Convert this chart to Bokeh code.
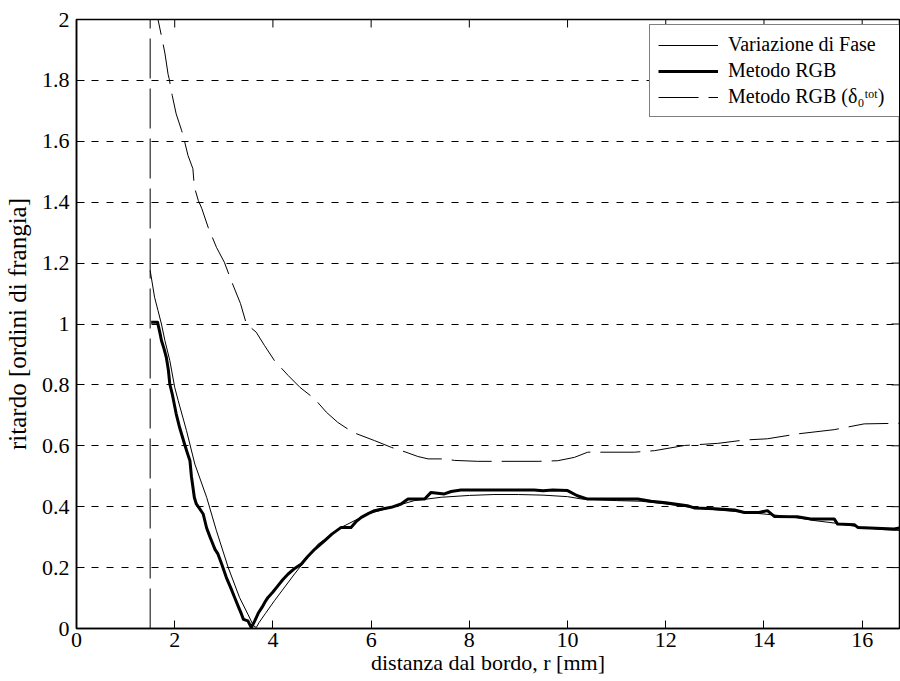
import math
from bokeh.plotting import figure
from bokeh.models import Range1d, FixedTicker, Legend, LegendItem
from bokeh.embed import file_html
from bokeh.resources import INLINE

# ---- data ----
fase_x = [1.50, 1.59, 1.66, 1.73, 1.80, 1.90, 2.00, 2.07, 2.24, 2.41, 2.65, 2.85, 3.09, 3.32,
          3.49, 3.60, 3.66, 3.72, 3.85, 4.03, 4.44, 4.92, 5.39, 5.93, 6.41, 6.88, 7.43, 8.0,
          8.5, 9.0, 9.5, 10.0, 10.3, 11.0, 11.5, 12.0, 12.5, 13.0, 13.5, 14.0, 14.5, 15.0,
          15.5, 16.0, 16.4, 16.76]
fase_y = [1.176, 1.088, 1.044, 1.0, 0.946, 0.88, 0.792, 0.749, 0.65, 0.54, 0.431, 0.321, 0.20,
          0.102, 0.047, 0.01, 0.003, 0.02, 0.05, 0.091, 0.179, 0.277, 0.332, 0.376, 0.398,
          0.42, 0.431, 0.437, 0.44, 0.44, 0.438, 0.433, 0.425, 0.42, 0.418, 0.409, 0.398,
          0.39, 0.383, 0.376, 0.368, 0.355, 0.345, 0.332, 0.325, 0.322]

rgb_x = [1.52, 1.65, 1.70, 1.73, 1.78, 1.83, 1.87, 1.90, 1.95, 2.03, 2.10, 2.20, 2.25, 2.31,
         2.34, 2.40, 2.44, 2.50, 2.58, 2.65, 2.72, 2.75, 2.82, 2.88, 2.96, 3.05, 3.15, 3.22,
         3.30, 3.36, 3.40, 3.49, 3.56, 3.63, 3.70, 3.78, 3.85, 3.90, 4.00, 4.10, 4.20, 4.31,
         4.45, 4.58, 4.70, 4.85, 5.05, 5.20, 5.39, 5.59, 5.70, 5.80, 5.95, 6.07, 6.25, 6.41,
         6.61, 6.75, 7.09, 7.22, 7.49, 7.63, 7.83, 8.17, 9.32, 9.50, 9.70, 10.0, 10.2, 10.41,
         11.43, 11.70, 12.0, 12.44, 12.58, 13.0, 13.40, 13.60, 13.9, 14.07, 14.21, 14.68,
         14.95, 15.43, 15.50, 15.84, 15.91, 16.65, 16.76]
rgb_y = [1.006, 1.006, 0.97, 0.946, 0.92, 0.89, 0.85, 0.803, 0.77, 0.705, 0.66, 0.606, 0.58,
         0.551, 0.50, 0.43, 0.409, 0.395, 0.376, 0.33, 0.30, 0.288, 0.26, 0.245, 0.21, 0.168,
         0.13, 0.102, 0.07, 0.047, 0.03, 0.025, 0.003, 0.025, 0.05, 0.07, 0.09, 0.102, 0.12,
         0.14, 0.16, 0.179, 0.198, 0.212, 0.235, 0.26, 0.288, 0.31, 0.332, 0.332, 0.352, 0.365,
         0.378, 0.387, 0.393, 0.398, 0.409, 0.425, 0.425, 0.447, 0.442, 0.45, 0.455, 0.455,
         0.455, 0.452, 0.455, 0.453, 0.436, 0.425, 0.425, 0.418, 0.413, 0.403, 0.396, 0.393,
         0.389, 0.381, 0.381, 0.387, 0.368, 0.367, 0.36, 0.36, 0.343, 0.341, 0.332, 0.327, 0.33]

tot_x = [1.62, 1.66, 1.75, 1.80, 1.865, 1.886, 1.95, 2.03, 2.14, 2.20, 2.27, 2.37, 2.40, 2.48,
         2.55, 2.68, 2.85, 3.01, 3.15, 3.34, 3.46, 3.66, 3.83, 4.03, 4.31, 4.55, 4.85, 5.09,
         5.32, 5.63, 6.07, 6.41, 6.71, 6.95, 7.16, 7.49, 7.7, 8.17, 8.99, 9.4, 9.80, 10.14,
         10.41, 11.36, 11.77, 12.38, 13.06, 13.60, 14.07, 14.68, 15.43, 16.04, 16.76]
tot_y = [2.08, 2.0, 1.93, 1.89, 1.82, 1.806, 1.75, 1.69, 1.636, 1.60, 1.554, 1.51, 1.45, 1.406,
         1.38, 1.318, 1.252, 1.203, 1.143, 1.067, 1.0, 0.973, 0.929, 0.88, 0.831, 0.792, 0.754,
         0.71, 0.677, 0.644, 0.617, 0.595, 0.579, 0.565, 0.557, 0.557, 0.552, 0.549, 0.549,
         0.549, 0.551, 0.562, 0.579, 0.579, 0.584, 0.601, 0.608, 0.619, 0.623, 0.639, 0.653,
         0.672, 0.674]

edge_x = [1.5, 1.5]
edge_y = [0.0, 2.0]

x_min, x_max = 0.0, 16.76
y_min, y_max = 0.0, 2.0
x_ticks = [0, 2, 4, 6, 8, 10, 12, 14, 16]
y_ticks = [0, 0.2, 0.4, 0.6, 0.8, 1, 1.2, 1.4, 1.6, 1.8, 2]
y_tick_labels = ["0", "0.2", "0.4", "0.6", "0.8", "1", "1.2", "1.4", "1.6", "1.8", "2"]

labels = ["Variazione di Fase", "Metodo RGB", "Metodo RGB (\u03b4\u2080\u1d57\u1d52\u1d57)"]

FONT = "Liberation Serif"

p = figure(width=900, height=681, output_backend="svg", toolbar_location=None, tools="",
           x_range=Range1d(x_min, x_max), y_range=Range1d(y_min, y_max),
           min_border_left=75, min_border_right=1, min_border_top=19, min_border_bottom=53)
p.background_fill_color = "white"
p.border_fill_color = "white"
p.outline_line_color = "black"
p.outline_line_width = 1.5

p.xgrid.visible = False
p.ygrid.ticker = FixedTicker(ticks=y_ticks)
p.ygrid.grid_line_color = "black"
p.ygrid.grid_line_dash = "7 8"
p.ygrid.grid_line_width = 1

r_edge = p.line(edge_x, edge_y, line_color="black", line_width=1, line_dash="40 10")
r1 = p.line(fase_x, fase_y, line_color="black", line_width=1)
r2 = p.line(rgb_x, rgb_y, line_color="black", line_width=3, line_join="round")
r3 = p.line(tot_x, tot_y, line_color="black", line_width=1, line_dash="40 10")

# inner ticks on the top and right edges of the box
p.ray(x=x_ticks, y=[y_max] * len(x_ticks), length=8, length_units="screen",
      angle=-math.pi / 2, line_color="black", line_width=1)
p.ray(x=[x_max] * len(y_ticks), y=y_ticks, length=8, length_units="screen",
      angle=math.pi, line_color="black", line_width=1)

def style_axis(ax):
    ax.axis_line_color = "black"
    ax.axis_line_width = 1.5
    ax.major_tick_in = 8
    ax.major_tick_out = 0
    ax.minor_tick_in = 0
    ax.minor_tick_out = 0
    ax.major_tick_line_color = "black"
    ax.major_tick_line_width = 1
    ax.major_label_text_font = FONT
    ax.major_label_text_font_size = "22px"
    ax.major_label_text_color = "black"
    ax.axis_label_text_font = FONT
    ax.axis_label_text_font_style = "normal"
    ax.axis_label_text_color = "black"

xa = p.xaxis[0]
xa.ticker = FixedTicker(ticks=x_ticks)
xa.axis_label = "distanza dal bordo, r [mm]"
style_axis(xa)
xa.axis_label_text_font_size = "22px"
xa.major_label_standoff = 4
xa.axis_label_standoff = 0

ya = p.yaxis[0]
ya.ticker = FixedTicker(ticks=y_ticks)
ya.major_label_overrides = {t: s for t, s in zip(y_ticks, y_tick_labels)}
ya.axis_label = "ritardo [ordini di frangia]"
style_axis(ya)
ya.axis_label_text_font_size = "25px"
ya.major_label_standoff = 7
ya.axis_label_standoff = 8

legend = Legend(items=[LegendItem(label=labels[0], renderers=[r1]),
                       LegendItem(label=labels[1], renderers=[r2]),
                       LegendItem(label=labels[2], renderers=[r3])],
                location=(573, 511))
legend.label_text_font = FONT
legend.label_text_font_size = "20px"
legend.label_text_color = "black"
legend.glyph_width = 60
legend.glyph_height = 22
legend.label_height = 22
legend.label_width = 200
legend.label_standoff = 10
legend.padding = 8
legend.spacing = 3
legend.margin = 0
legend.border_line_color = "black"
legend.border_line_width = 1
legend.background_fill_color = "white"
legend.background_fill_alpha = 1
p.add_layout(legend)

open("out.html", "w").write(file_html(p, INLINE))
